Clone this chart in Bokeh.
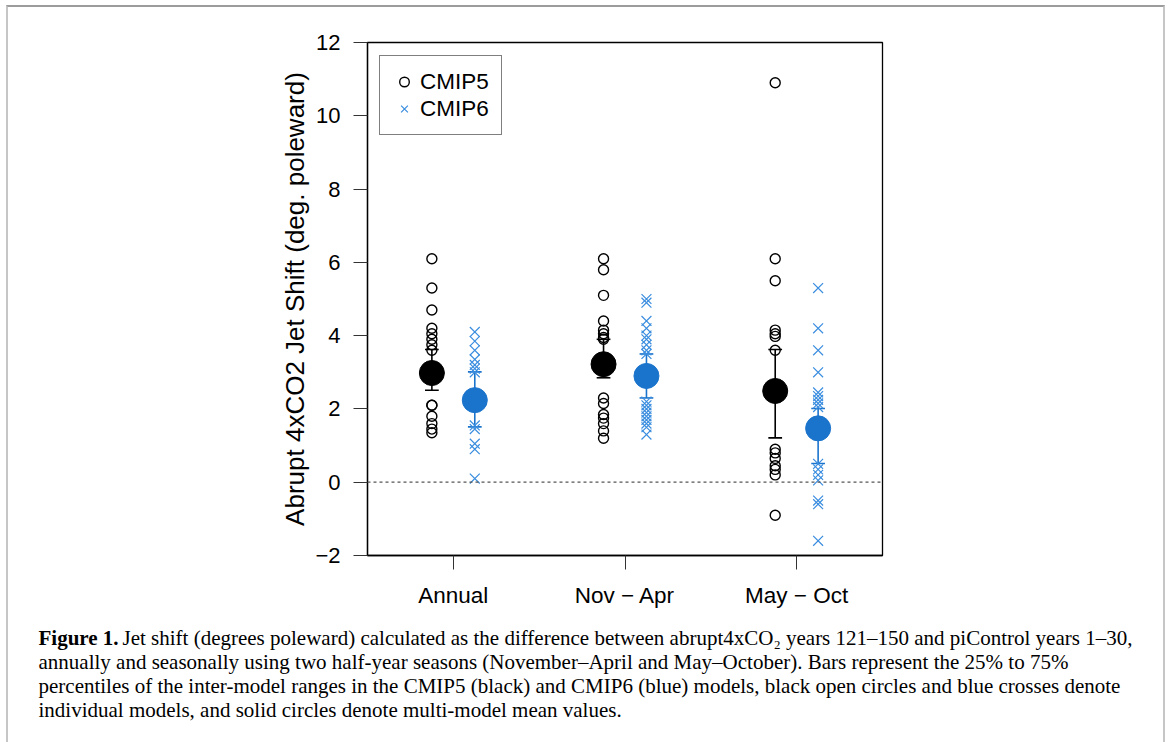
from bokeh.plotting import figure
from bokeh.layouts import column
from bokeh.models import (ColumnDataSource, Span, Legend, LegendItem,
                          FixedTicker, Range1d)
from bokeh.core.properties import value
from bokeh.embed import file_html
from bokeh.resources import INLINE

# ---------------- data ----------------
categories = ["Annual", "Nov \u2212 Apr", "May \u2212 Oct"]

cmip5_annual = [6.1, 5.3, 4.7, 4.2, 4.05, 3.9, 3.75, 3.6, 2.1, 2.1, 1.8, 1.6, 1.45, 1.35]
cmip5_novapr = [6.1, 5.8, 5.1, 4.4, 4.15, 4.05, 3.95, 3.9, 2.3, 2.15, 1.85, 1.75, 1.6, 1.4, 1.2]
cmip5_mayoct = [10.9, 6.1, 5.5, 4.15, 4.05, 3.98, 3.6, 0.9, 0.8, 0.65, 0.45, 0.35, 0.2, -0.9]

cmip6_annual = [4.1, 3.85, 3.6, 3.35, 3.2, 3.1, 3.0, 1.55, 1.45, 1.05, 0.9, 0.1]
cmip6_novapr = [5.0, 4.9, 4.4, 4.2, 4.0, 3.9, 3.75, 3.6, 3.5, 2.2, 2.1, 2.0, 1.9, 1.8, 1.7, 1.6, 1.5, 1.3]
cmip6_mayoct = [5.3, 4.2, 3.6, 3.0, 2.45, 2.35, 2.25, 2.15, 2.05, 0.5, 0.35, 0.2, 0.05, -0.5, -0.6, -1.6]

cmip5_means = [2.98, 3.22, 2.49]
cmip5_q25 = [2.51, 2.85, 1.21]
cmip5_q75 = [3.62, 3.90, 3.62]

cmip6_means = [2.24, 2.90, 1.47]
cmip6_q25 = [1.51, 2.30, 0.51]
cmip6_q75 = [3.01, 3.50, 2.01]

y_ticks = [-2, 0, 2, 4, 6, 8, 10, 12]
y_tick_labels = ["\u22122", "0", "2", "4", "6", "8", "10", "12"]

caption_bold = "Figure 1."
caption_lines = [
    "Jet shift (degrees poleward) calculated as the difference between abrupt4xCO\u2082 years 121\u2013150 and piControl years 1\u201330,",
    "annually and seasonally using two half-year seasons (November\u2013April and May\u2013October). Bars represent the 25% to 75%",
    "percentiles of the inter-model ranges in the CMIP5 (black) and CMIP6 (blue) models, black open circles and blue crosses denote",
    "individual models, and solid circles denote multi-model mean values.",
]

# ---------------- styling ----------------
SANS = "Liberation Sans"
SERIF = "Liberation Serif"
BLACK = "#000000"
BLUE_MEAN = "#1b74cc"
BLUE_X = "#3a8ddf"
OFF5, OFF6 = -0.125, 0.125
CAP = 0.04

# content origin inside the bordered page (canvas coords)
OX, OY = 8, 7
W = 1155
TOP_H = 610
CAP_H = 742 - OY - TOP_H

cat_pos = [1, 2, 3]

def pts(series, off):
    xs, ys = [], []
    for i, s in enumerate(series):
        xs += [cat_pos[i] + off] * len(s)
        ys += list(s)
    return ColumnDataSource(dict(x=xs, y=ys))

src5 = pts([cmip5_annual, cmip5_novapr, cmip5_mayoct], OFF5)
src6 = pts([cmip6_annual, cmip6_novapr, cmip6_mayoct], OFF6)

def summ(means, q25, q75, off):
    x = [c + off for c in cat_pos]
    return ColumnDataSource(dict(x=x, m=means, lo=q25, hi=q75,
                                 xl=[v - CAP for v in x], xr=[v + CAP for v in x]))

s5 = summ(cmip5_means, cmip5_q25, cmip5_q75, OFF5)
s6 = summ(cmip6_means, cmip6_q25, cmip6_q75, OFF6)

p = figure(width=W, height=TOP_H, x_range=Range1d(0.5, 3.5), y_range=Range1d(-2, 12),
           output_backend="svg", toolbar_location=None,
           min_border_left=367 - OX, min_border_right=W - (882 - OX),
           min_border_top=42 - OY, min_border_bottom=(OY + TOP_H) - 555)
p.frame_align = False
p.grid.visible = False
p.background_fill_color = "white"
p.border_fill_color = "white"
p.outline_line_color = "black"
p.outline_line_width = 1.3

# axes
p.yaxis.ticker = FixedTicker(ticks=y_ticks)
p.yaxis.major_label_overrides = {t: l for t, l in zip(y_ticks, y_tick_labels)}
p.xaxis.ticker = FixedTicker(ticks=cat_pos)
p.xaxis.major_label_overrides = {c: l for c, l in zip(cat_pos, categories)}
for ax in (p.xaxis[0], p.yaxis[0]):
    ax.major_tick_in = 0
    ax.major_tick_out = 14
    ax.minor_tick_in = 0
    ax.minor_tick_out = 0
    ax.major_tick_line_color = "#333333"
    ax.axis_line_color = "black"
    ax.axis_line_width = 1.3
    ax.major_label_text_font = SANS
    ax.major_label_text_color = "black"
p.yaxis.major_label_text_font_size = "22px"
p.xaxis.major_label_text_font_size = "22.5px"
p.yaxis.major_label_standoff = 13
p.xaxis.major_label_standoff = 13
p.yaxis.axis_label = "Abrupt 4xCO2 Jet Shift (deg. poleward)"
p.yaxis.axis_label_text_font = SANS
p.yaxis.axis_label_text_font_size = "26px"
p.yaxis.axis_label_text_font_style = "normal"
p.yaxis.axis_label_text_color = "black"
p.yaxis.axis_label_standoff = 2

# zero line
p.add_layout(Span(location=0, dimension="width", line_color="#555555",
                  line_dash="3 3", line_width=1.2))

# error bars
for src, col in ((s5, BLACK), (s6, BLUE_MEAN)):
    p.segment(x0="x", y0="lo", x1="x", y1="hi", source=src, line_color=col, line_width=1.6)
    p.segment(x0="xl", y0="lo", x1="xr", y1="lo", source=src, line_color=col, line_width=1.6)
    p.segment(x0="xl", y0="hi", x1="xr", y1="hi", source=src, line_color=col, line_width=1.6)

r5 = p.scatter(x="x", y="y", source=src5, marker="circle", size=10,
               fill_color=None, line_color=BLACK, line_width=1.4)
r6 = p.scatter(x="x", y="y", source=src6, marker="x", size=14,
               line_color=BLUE_X, line_width=1.2)

p.scatter(x="x", y="m", source=s5, marker="circle", size=25, fill_color=BLACK, line_color=BLACK)
p.scatter(x="x", y="m", source=s6, marker="circle", size=25, fill_color=BLUE_MEAN, line_color=BLUE_MEAN)

legend = Legend(items=[LegendItem(label="CMIP5", renderers=[r5]),
                       LegendItem(label="CMIP6", renderers=[r6])],
                location=(12, 420))
legend.label_text_font = SANS
legend.label_text_font_size = "22.5px"
legend.label_text_color = "black"
legend.glyph_width = 24
legend.glyph_height = 27
legend.label_height = 27
legend.spacing = 0
legend.padding = 12
legend.margin = 0
legend.label_standoff = 4
legend.border_line_color = "black"
legend.border_line_width = 1.2
legend.background_fill_color = "white"
legend.background_fill_alpha = 1
p.add_layout(legend)

# ---------------- caption ----------------
cap = figure(width=W, height=CAP_H, x_range=Range1d(0, W), y_range=Range1d(CAP_H, 0),
             x_axis_type=None, y_axis_type=None, output_backend="svg", toolbar_location=None,
             min_border=0)
cap.frame_align = False
cap.grid.visible = False
cap.outline_line_color = None
cap.background_fill_color = "white"
cap.border_fill_color = "white"

base_y = 637 - (OY + TOP_H)
line_y = [base_y + 24 * i for i in range(len(caption_lines))]
cap_x0 = 38 - OX
cap.text(x=[cap_x0], y=[line_y[0]], text=[caption_bold], text_font=value(SERIF),
         text_font_size="21px", text_font_style="bold", text_baseline="middle", text_color="black")
cap_src = ColumnDataSource(dict(x=[cap_x0 + 84] + [cap_x0] * 3, y=line_y, t=caption_lines))
cap.text(x="x", y="y", text="t", source=cap_src, text_font=value(SERIF),
         text_font_size="21px", text_baseline="middle", text_color="black")

layout = column(p, cap, spacing=0,
                styles={"margin-left": "6px", "margin-top": "5px",
                        "border-top": "2px solid #9c9c9c",
                        "border-left": "2px solid #c6c6c6",
                        "border-right": "2px solid #c6c6c6"})

open("out.html", "w").write(file_html(layout, INLINE))
